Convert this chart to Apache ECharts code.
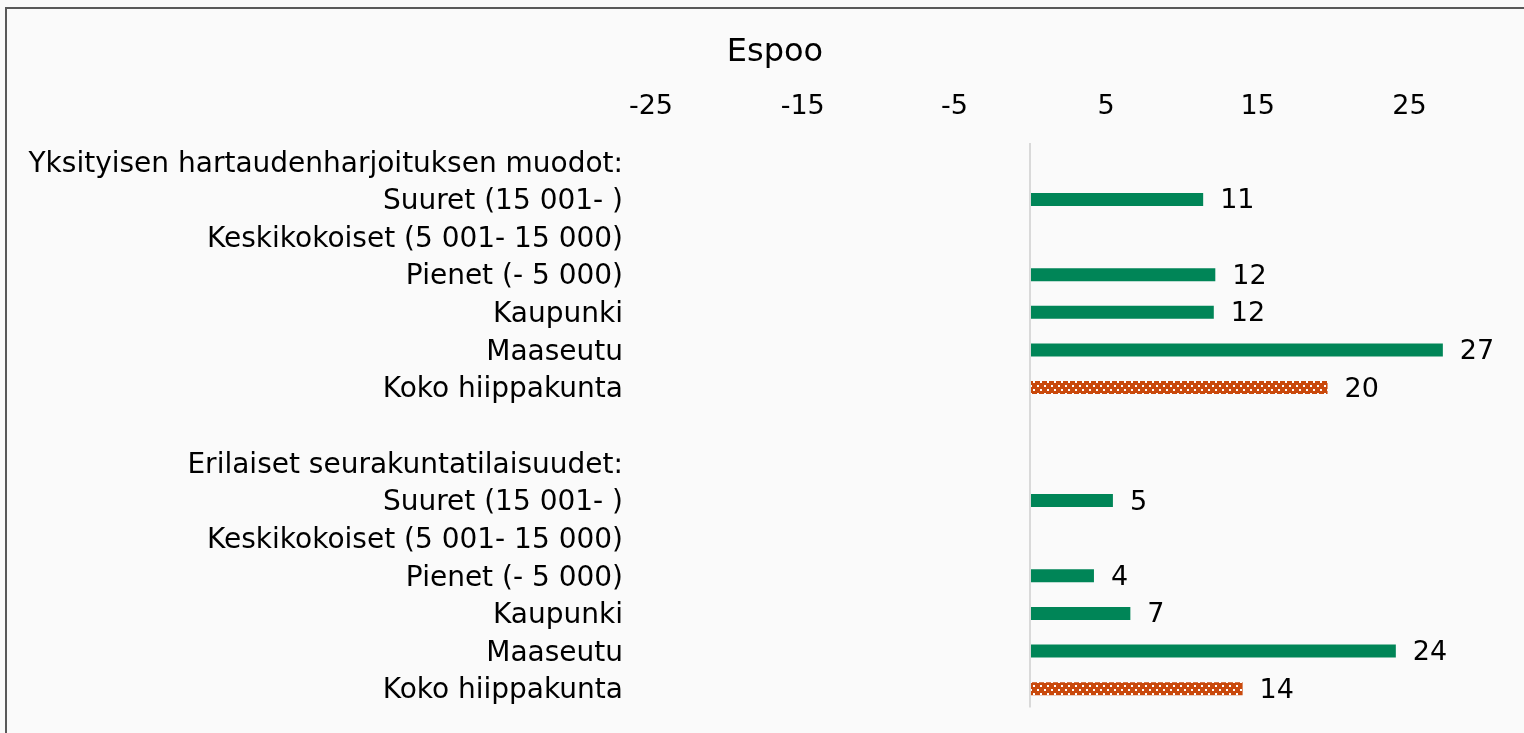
<!DOCTYPE html>
<html>
<head>
<meta charset="utf-8">
<style>
  html, body { margin: 0; padding: 0; background: #fafafa; }
  #chart { width: 1524px; height: 733px; }
</style>
</head>
<body>
<div id="chart"></div>
<script src="https://cdn.jsdelivr.net/npm/echarts@6/dist/echarts.min.js"></script>
<script>
// rows of the chart, top to bottom
var categories = [
    'Yksityisen hartaudenharjoituksen muodot:',
    'Suuret (15 001- )',
    'Keskikokoiset (5 001- 15 000)',
    'Pienet (- 5 000)',
    'Kaupunki',
    'Maaseutu',
    'Koko hiippakunta',
    '',
    'Erilaiset seurakuntatilaisuudet:',
    'Suuret (15 001- )',
    'Keskikokoiset (5 001- 15 000)',
    'Pienet (- 5 000)',
    'Kaupunki',
    'Maaseutu',
    'Koko hiippakunta'
];
// green bars (seurakunnat by size / type)
var groupValues = [null, 11.4, null, 12.2, 12.1, 27.2, null, null, null, 5.45, null, 4.2, 6.6, 24.1, null];
// orange dotted bars (whole diocese)
var totalValues = [null, null, null, null, null, null, 19.6, null, null, null, null, null, null, null, 14.0];
// labels shown on the top axis
var tickLabels = [-25, -15, -5, 5, 15, 25];

var FONT = 'DejaVu Sans';

// dotted fill for the diocese bars
var tile = document.createElement('canvas');
tile.width = 7;
tile.height = 8;
var tc = tile.getContext('2d');
tc.fillStyle = '#c9490c';
tc.fillRect(0, 0, 7, 8);
tc.fillStyle = '#ffffff';
tc.fillRect(1, 1, 2, 2);
tc.fillRect(4, 5, 2, 2);

var myChart = echarts.init(document.getElementById('chart'));

var valueLabel = {
    show: true,
    position: 'right',
    distance: 17,
    offset: [0, 2],
    fontFamily: FONT,
    fontSize: 27,
    color: '#000',
    formatter: function (p) { return Math.round(p.value); }
};

var option = {
    backgroundColor: '#fafafa',
    animation: false,
    title: {
        text: 'Espoo',
        left: 770,
        textAlign: 'center',
        top: 32,
        textStyle: { fontFamily: FONT, fontSize: 32, fontWeight: 'normal', color: '#000' }
    },
    graphic: [{
        type: 'rect',
        silent: true,
        shape: { x: 6, y: 8, width: 1560, height: 780 },
        style: { fill: 'none', stroke: '#595959', lineWidth: 2 }
    }],
    grid: { left: 651, right: 23.5, top: 143, bottom: 25.5, containLabel: false },
    xAxis: {
        type: 'value',
        position: 'top',
        min: -25,
        max: 31,
        interval: 5,
        axisLine: { show: false },
        axisTick: { show: false },
        splitLine: { show: false },
        axisLabel: {
            margin: 23,
            fontFamily: FONT,
            fontSize: 27,
            color: '#000',
            showMaxLabel: false,
            formatter: function (v) {
                return tickLabels.indexOf(v) >= 0 ? String(v) : '';
            }
        }
    },
    yAxis: {
        type: 'category',
        inverse: true,
        data: categories,
        axisLine: { show: false },
        axisTick: { show: false },
        axisLabel: {
            margin: 28,
            formatter: function (v) { return '{c|' + v + '}'; },
            rich: {
                c: {
                    fontFamily: FONT,
                    fontSize: 28,
                    color: '#000',
                    padding: [5, 0, 0, 0]
                }
            }
        }
    },
    series: [
        {
            name: 'group',
            type: 'bar',
            barWidth: 13,
            barGap: '-100%',
            data: groupValues,
            itemStyle: { color: '#008557' },
            label: valueLabel,
            markLine: {
                silent: true,
                symbol: 'none',
                label: { show: false },
                lineStyle: { color: '#d9d9d9', width: 2, type: 'solid' },
                data: [{ xAxis: 0 }]
            }
        },
        {
            name: 'total',
            type: 'bar',
            barWidth: 13,
            barGap: '-100%',
            data: totalValues,
            itemStyle: { color: { image: tile, repeat: 'repeat' } },
            label: valueLabel
        }
    ]
};

myChart.setOption(option);
</script>
</body>
</html>
